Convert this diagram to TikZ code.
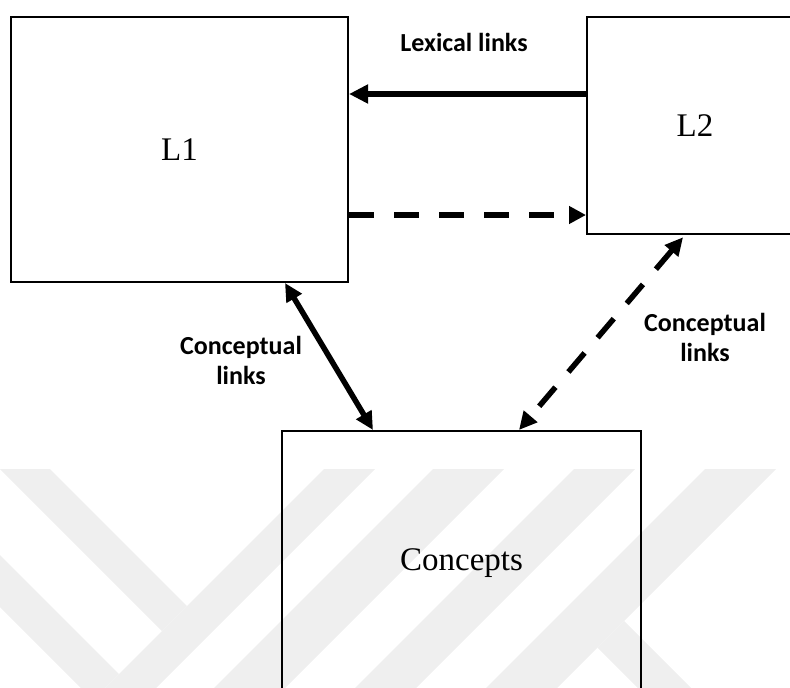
\documentclass[tikz,border=0pt]{standalone}
\usepackage{fontspec}
\setmainfont{Liberation Serif}
\newfontfamily\lblfont{Carlito}
\usetikzlibrary{arrows.meta}
\definecolor{wmgray}{RGB}{239,239,239}
\begin{document}
\begin{tikzpicture}[x=1pt,y=-1pt,
  box/.style={draw=black, line width=2pt, inner sep=0pt, font=\fontsize{33}{39}\selectfont},
  lbl/.style={font=\lblfont\bfseries\fontsize{26}{30}\selectfont, align=center},
  link/.style={line width=5.5pt},
  dashlink/.style={line width=5.5pt, dash pattern=on 25pt off 20pt},
  wm/.style={fill=wmgray}
]
\useasboundingbox (0,0) rectangle (790,688);
% watermark
\begin{scope}
\clip (0,469) rectangle (790,688);
\fill[wm] (-200,269) -- (-150,269) -- (187,606) -- (162,631) -- cycle;
\fill[wm] (393,400) -- (444,400) -- (-56,900) -- (-107,900) -- cycle;
\fill[wm] (-200,355) -- (-200,407) -- (93,700) -- (119,674) -- cycle;
\fill[wm] (502,400) -- (573,400) -- (73,900) -- (2,900) -- cycle;
\fill[wm] (643,400) -- (704,400) -- (204,900) -- (143,900) -- cycle;
\fill[wm] (774,400) -- (845,400) -- (345,900) -- (274,900) -- cycle;
\fill[wm] (624,621) -- (597.5,647.5) -- (897.5,947.5) -- (924,921) -- cycle;
\end{scope}
% boxes
\node[box, minimum width=337pt, minimum height=265pt] (L1) at (179.5,149.5) {L1};
\node[box, minimum width=216pt, minimum height=217pt] (L2) at (695,125.5) {L2};
\node[box, minimum width=359pt, minimum height=264pt] (C) at (461.5,563) {Concepts};
% labels
\node[lbl] (lex) at (464,42) {Lexical links};
\node[lbl] (cl1) at (241,360) {Conceptual\\links};
\node[lbl] (cl2) at (705,337) {Conceptual\\links};
% helper coordinates
\coordinate (lexY) at (0,94);
\coordinate (dashY) at (0,215);
\coordinate (xa) at (285,0);
\coordinate (xb) at (373,0);
\coordinate (xc) at (685,0);
\coordinate (xd) at (519,0);
% connectors
\draw[link, -{Triangle[length=19pt,width=18pt]}] (L2.west |- lexY) -- (L1.east |- lexY);
\draw[dashlink, -{Triangle[length=17pt,width=17pt]}] (L1.east |- dashY) -- (L2.west |- dashY);
\draw[link, {Triangle[length=18pt,width=17pt]}-{Triangle[length=18pt,width=17pt]}] (L1.south -| xa) -- (C.north -| xb);
\draw[dashlink, {Triangle[length=18pt,width=17pt]}-{Triangle[length=18pt,width=17pt]}, shorten <=3pt] (L2.south -| xc) -- (C.north -| xd);
\end{tikzpicture}
\end{document}
